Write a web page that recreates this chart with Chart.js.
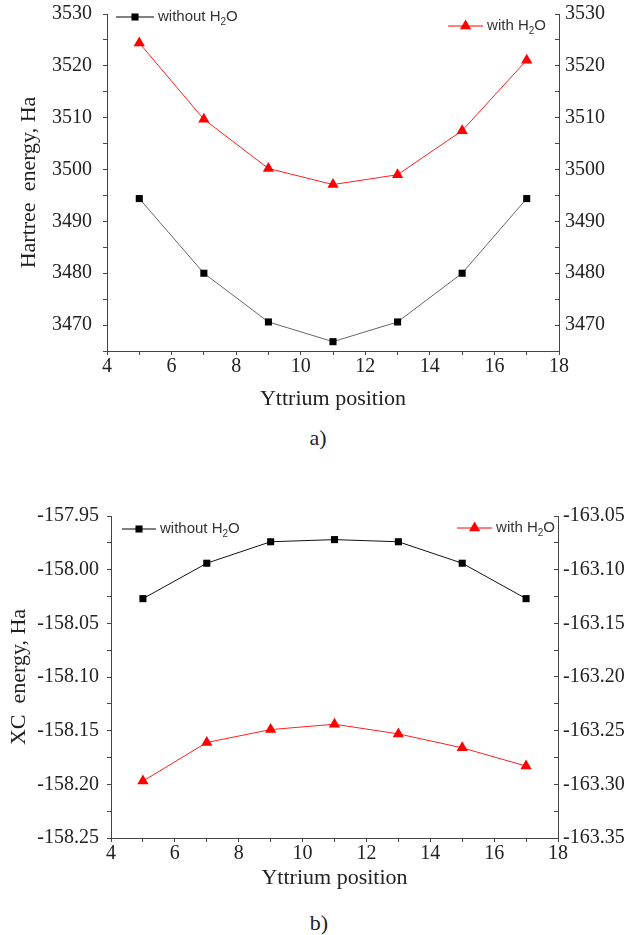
<!DOCTYPE html>
<html>
<head>
<meta charset="utf-8">
<script src="https://cdn.jsdelivr.net/npm/chart.js@4.4.0/dist/chart.umd.min.js"></script>
<style>
  body { margin: 0; background: #fff; width: 627px; height: 935px; position: relative; overflow: hidden; }
  canvas { position: absolute; left: 0; }
  #chartA { top: 0; }
  #chartB { top: 470px; }
  .tag { position: absolute; width: 40px; margin-left: -20px; text-align: center;
         font: 22px "Liberation Serif", serif; color: #222; line-height: 26px; }
</style>
</head>
<body>
<canvas id="chartA" width="627" height="420"></canvas>
<div class="tag" style="left:318px; top:425px">a)</div>
<canvas id="chartB" width="627" height="430"></canvas>
<div class="tag" style="left:319px; top:910px">b)</div>
<script>
// yttrium positions and x tick labels
const positions = [5, 7, 9, 11, 13, 15, 17];
const xTicks = [4, 6, 8, 10, 12, 14, 16, 18];

// a) Hartree energy, Ha
const hartreeWithout = [3494.4, 3480.0, 3470.6, 3466.8, 3470.6, 3480.0, 3494.4];
const hartreeWith = [3524.4, 3509.7, 3500.2, 3497.1, 3499.0, 3507.5, 3521.1];
const hartreeTicks = [3470, 3480, 3490, 3500, 3510, 3520, 3530];

// b) XC energy, Ha (left axis: without water, right axis: with water)
const xcWithout = [-158.027, -157.994, -157.974, -157.972, -157.974, -157.994, -158.027];
const xcWith = [-163.297, -163.261, -163.249, -163.244, -163.253, -163.266, -163.283];
const xcLeftTicks = [-158.25, -158.20, -158.15, -158.10, -158.05, -158.00, -157.95];
const xcRightTicks = [-163.35, -163.30, -163.25, -163.20, -163.15, -163.10, -163.05];

const serif = '"Liberation Serif", "Times New Roman", serif';
const sans = '"Liberation Sans", Arial, sans-serif';

Chart.defaults.font.family = serif;
Chart.defaults.font.size = 20;
Chart.defaults.color = '#222';

const points = ys => positions.map((x, i) => ({ x, y: ys[i] }));

// only label the major ticks, the rest stay as minor tick marks
const tickLabel = (list, dec) => v => list.some(t => Math.abs(t - v) < 1e-6) ? v.toFixed(dec) : '';

// Origin-style legend entries sitting in the plot corners
const cornerLegend = {
  id: 'cornerLegend',
  afterDraw(chart, args, opts) {
    const { ctx, chartArea } = chart;
    (opts.items || []).forEach(it => {
      const ds = chart.data.datasets[it.dataset];
      const [pre, post] = ds.label.split('₂');
      ctx.save();
      ctx.font = '15px ' + sans;
      const wPre = ctx.measureText(pre).width;
      const wPost = ctx.measureText(post).width;
      ctx.font = '10px ' + sans;
      const wSub = ctx.measureText('2').width;
      const total = it.line + 4 + wPre + wSub + wPost;
      const x0 = it.align === 'right' ? chartArea.right - it.dx - total : chartArea.left + it.dx;
      const y = chartArea.top + it.dy;

      ctx.strokeStyle = ds.pointBackgroundColor;
      ctx.lineWidth = 1;
      ctx.beginPath();
      ctx.moveTo(x0, y);
      ctx.lineTo(x0 + it.line, y);
      ctx.stroke();
      ctx.fillStyle = ds.pointBackgroundColor;
      Chart.helpers.drawPoint(ctx, { pointStyle: ds.pointStyle, radius: ds.pointRadius, rotation: 0, borderWidth: 0 }, x0 + it.line / 2, y);

      ctx.fillStyle = '#333';
      ctx.textAlign = 'left';
      ctx.textBaseline = 'middle';
      let tx = x0 + it.line + 4;
      ctx.font = '15px ' + sans;
      ctx.fillText(pre, tx, y);
      tx += wPre;
      ctx.font = '10px ' + sans;
      ctx.fillText('2', tx, y + 5);
      tx += wSub;
      ctx.font = '15px ' + sans;
      ctx.fillText(post, tx, y);
      ctx.restore();
    });
  }
};

// pin the plot area: fixed axis sizes, no extra room for edge labels
function pin(s, size) {
  if (s.isHorizontal()) s.height = size; else s.width = size;
  s.paddingTop = 0;
  s.paddingBottom = 0;
  s.paddingLeft = 0;
  s.paddingRight = 0;
}

function xScale(height, tickPad, titlePad) {
  return {
    type: 'linear', position: 'bottom', min: 4, max: 18,
    ticks: { stepSize: 1, autoSkip: false, maxRotation: 0, padding: tickPad, color: '#222',
             font: { family: serif, size: 20 }, callback: tickLabel(xTicks, 0) },
    grid: { drawOnChartArea: false, tickLength: 4, color: '#444' },
    border: { color: '#444' },
    title: { display: true, text: 'Yttrium position', color: '#222',
             font: { family: serif, size: 22 }, padding: { top: 0, bottom: titlePad } },
    afterFit: s => pin(s, height)
  };
}

function yScale(o) {
  const right = o.position === 'right';
  return {
    type: 'linear', position: o.position, min: o.min, max: o.max,
    ticks: { stepSize: o.step, autoSkip: false, padding: o.pad, color: '#222',
             font: { family: serif, size: 20 }, callback: tickLabel(o.labels, o.dec) },
    grid: { drawOnChartArea: false, tickLength: right ? -4 : 4, color: '#444' },
    border: { color: '#444' },
    title: o.title ? { display: true, text: o.title, color: '#222',
                       font: { family: serif, size: 22 }, padding: { top: o.titlePad, bottom: 0 } } : { display: false },
    afterFit: s => pin(s, o.width)
  };
}

const blackSet = (label, data, line, axis) => ({
  label, data, yAxisID: axis,
  borderColor: line, borderWidth: 1,
  pointStyle: 'rect', pointRadius: 5, pointBackgroundColor: '#000', pointBorderWidth: 0
});
const redSet = (label, data, axis) => ({
  label, data, yAxisID: axis,
  borderColor: '#ff2020', borderWidth: 1,
  pointStyle: 'triangle', pointRadius: 6.5, pointBackgroundColor: '#ff0000', pointBorderWidth: 0
});

const common = {
  responsive: false,
  animation: false,
  plugins: { legend: { display: false }, tooltip: { enabled: false } }
};

new Chart(document.getElementById('chartA'), {
  type: 'line',
  data: {
    datasets: [
      blackSet('without H₂O', points(hartreeWithout), '#666', 'y'),
      redSet('with H₂O', points(hartreeWith), 'y')
    ]
  },
  options: {
    ...common,
    layout: { padding: { top: 14, left: 0, right: 0, bottom: 0 } },
    scales: {
      x: xScale(69, 0, 8),
      y: yScale({ position: 'left', min: 3465, max: 3530, step: 5, labels: hartreeTicks, dec: 0,
                  width: 107, pad: 11, title: 'Hartree  energy, Ha', titlePad: 16 }),
      y2: yScale({ position: 'right', min: 3465, max: 3530, step: 5, labels: hartreeTicks, dec: 0,
                   width: 68, pad: 10 })
    },
    plugins: {
      ...common.plugins,
      cornerLegend: { items: [
        { dataset: 0, align: 'left', dx: 9, dy: 3, line: 38 },
        { dataset: 1, align: 'right', dx: 13, dy: 12, line: 35 }
      ] }
    }
  },
  plugins: [cornerLegend]
});

new Chart(document.getElementById('chartB'), {
  type: 'line',
  data: {
    datasets: [
      blackSet('without H₂O', points(xcWithout), '#111', 'y'),
      redSet('with H₂O', points(xcWith), 'y2')
    ]
  },
  options: {
    ...common,
    layout: { padding: { top: 46, left: 0, right: 0, bottom: 0 } },
    scales: {
      x: xScale(62, 0, 9),
      y: yScale({ position: 'left', min: -158.25, max: -157.95, step: 0.025, labels: xcLeftTicks, dec: 2,
                  width: 111, pad: 8, title: 'XC  energy, Ha', titlePad: 6 }),
      y2: yScale({ position: 'right', min: -163.35, max: -163.05, step: 0.025, labels: xcRightTicks, dec: 2,
                   width: 69, pad: 9 })
    },
    plugins: {
      ...common.plugins,
      cornerLegend: { items: [
        { dataset: 0, align: 'left', dx: 11, dy: 13, line: 34 },
        { dataset: 1, align: 'right', dx: 3, dy: 12, line: 35 }
      ] }
    }
  },
  plugins: [cornerLegend]
});
</script>
</body>
</html>
